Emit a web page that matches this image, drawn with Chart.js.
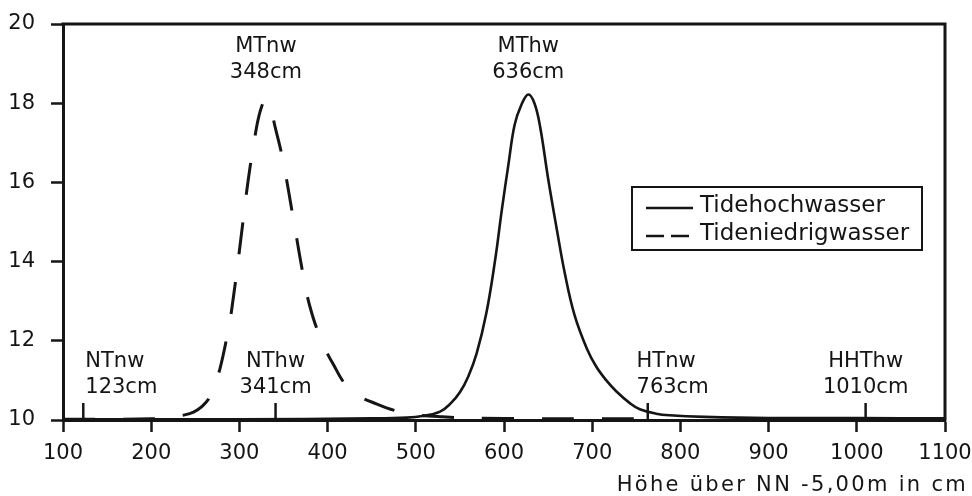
<!DOCTYPE html>
<html>
<head>
<meta charset="utf-8">
<script src="https://cdn.jsdelivr.net/npm/chart.js@4/dist/chart.umd.min.js"></script>
<style>
  html, body { margin: 0; padding: 0; background: #fff; }
  #wrap { width: 972px; height: 496px; }
</style>
</head>
<body>
<div id="wrap"><canvas id="chart" width="972" height="496"></canvas></div>
<script>
// Tidehochwasser (solid)
const hwX = [100, 300, 450, 490, 507.5, 527.5, 539.5, 550, 559.5, 569, 580, 590, 597.5, 605, 612, 619.5, 627.5, 634.5, 641, 650, 660, 669, 680, 694, 704.5, 716, 727.5, 743, 754, 772.5, 787.5, 827.5, 900, 1000, 1100];
const hwY = [10.02, 10.02, 10.04, 10.06, 10.1, 10.21, 10.42, 10.7, 11.1, 11.68, 12.7, 14.05, 15.3, 16.45, 17.45, 17.95, 18.22, 18.0, 17.4, 16.1, 14.8, 13.7, 12.65, 11.8, 11.35, 11.0, 10.72, 10.42, 10.27, 10.16, 10.12, 10.08, 10.05, 10.05, 10.04];
// Tideniedrigwasser (dashed)
const nwX = [100, 150, 200, 220, 236, 248, 258, 266.7, 272, 278, 285.6, 291.2, 300.7, 310, 319.6, 325, 330, 335, 340.4, 349, 361, 373, 380, 391.4, 405.8, 426, 456, 490, 530, 600, 700, 770];
const nwY = [10.02, 10.02, 10.03, 10.06, 10.12, 10.2, 10.35, 10.59, 10.9, 11.3, 12.07, 12.78, 14.4, 16.06, 17.41, 17.9, 18.08, 17.9, 17.41, 16.6, 15.1, 13.58, 12.86, 12.1, 11.43, 10.76, 10.4, 10.17, 10.08, 10.04, 10.03, 10.03];
const seriesNames = ["Tidehochwasser", "Tideniedrigwasser"];

const xTicks = [100, 200, 300, 400, 500, 600, 700, 800, 900, 1000, 1100];
const yTicks = [10, 12, 14, 16, 18, 20];
const xTitle = "Höhe über NN -5,00m in cm";

// marked water levels
const markNames = ["NTnw", "MTnw", "NThw", "MThw", "HTnw", "HHThw"];
const markValues = [123, 348, 341, 636, 763, 1010];
const markTick = [true, false, true, false, true, true];
// where each label sits (x in cm), alignment and row
const markLabelAt = [123, 330, 341, 627.5, 748, 1010];
const markAlign = ["left", "center", "center", "center", "left", "center"];
const markRow = ["bottom", "top", "bottom", "top", "bottom", "bottom"];

const INK = "#151515";
const FONT = "'DejaVu Sans', sans-serif";

function pts(xs, ys) {
  return xs.map((v, i) => ({ x: v, y: ys[i] }));
}

const decor = {
  id: "decor",
  beforeDraw(chart) {
    const ctx = chart.ctx;
    ctx.save();
    ctx.fillStyle = "#fff";
    ctx.fillRect(0, 0, chart.width, chart.height);
    ctx.restore();
  },
  afterDraw(chart) {
    const { ctx, chartArea: a, scales } = chart;
    const x = scales.x;
    ctx.save();
    ctx.strokeStyle = INK;
    ctx.fillStyle = INK;
    ctx.lineWidth = 3;
    ctx.beginPath();
    ctx.moveTo(a.left - 1.5, a.top);
    ctx.lineTo(a.right, a.top);
    ctx.lineTo(a.right, a.bottom + 1.5);
    ctx.stroke();

    // level marks
    ctx.font = "21px " + FONT;
    ctx.textBaseline = "middle";
    markNames.forEach((name, i) => {
      if (markTick[i]) {
        const px = x.getPixelForValue(markValues[i]);
        ctx.lineWidth = 2.5;
        ctx.beginPath();
        ctx.moveTo(px, a.bottom);
        ctx.lineTo(px, a.bottom - 17);
        ctx.stroke();
      }
      const lx = x.getPixelForValue(markLabelAt[i]) + (markAlign[i] === "left" ? 2 : 0);
      ctx.textAlign = markAlign[i];
      const y1 = markRow[i] === "top" ? a.top + 23 : a.bottom - 58;
      ctx.fillText(name, lx, y1);
      ctx.fillText(markValues[i] + "cm", lx, y1 + 26);
    });

    // legend
    const bx = a.right - 313, by = a.top + 163, bw = 290, bh = 63;
    ctx.lineWidth = 2;
    ctx.strokeRect(bx, by, bw, bh);
    ctx.font = "23px " + FONT;
    ctx.textAlign = "left";
    chart.data.datasets.forEach((ds, i) => {
      const ly = by + 21 + i * 28;
      ctx.save();
      ctx.lineWidth = 2.5;
      ctx.setLineDash(ds.borderDash && ds.borderDash.length ? [18, 7] : []);
      ctx.beginPath();
      ctx.moveTo(bx + 14, ly);
      ctx.lineTo(bx + 61, ly);
      ctx.stroke();
      ctx.restore();
      ctx.fillText(ds.label, bx + 68, ly - 2);
    });

    // axis title
    ctx.font = "21px " + FONT;
    if ("letterSpacing" in ctx) ctx.letterSpacing = "2.3px";
    ctx.textAlign = "right";
    ctx.fillText(xTitle, chart.width - 4, a.bottom + 66);
    ctx.restore();
  }
};

new Chart(document.getElementById("chart"), {
  type: "line",
  data: {
    datasets: [
      {
        label: seriesNames[0],
        data: pts(hwX, hwY),
        borderColor: INK,
        borderWidth: 2.6,
        pointRadius: 0,
        tension: 0.4,
        fill: false
      },
      {
        label: seriesNames[1],
        data: pts(nwX, nwY),
        borderColor: INK,
        borderWidth: 3,
        borderDash: [32, 28],
        pointRadius: 0,
        tension: 0.4,
        fill: false
      }
    ]
  },
  options: {
    responsive: false,
    animation: false,
    devicePixelRatio: 1,
    layout: { padding: { left: 0, top: 24, right: 27, bottom: 0 } },
    plugins: {
      legend: { display: false },
      title: { display: false },
      tooltip: { enabled: false }
    },
    scales: {
      x: {
        type: "linear",
        min: 100,
        max: 1100,
        afterBuildTicks: s => { s.ticks = xTicks.map(v => ({ value: v })); },
        afterFit: s => { s.height = 76; s.paddingLeft = 0; s.paddingRight = 0; },
        border: { display: true, color: INK, width: 3 },
        grid: { drawOnChartArea: false, drawTicks: true, tickLength: 12, tickWidth: 2.5, tickColor: INK },
        ticks: { color: INK, padding: 9, maxRotation: 0, font: { family: FONT, size: 21 }, callback: v => String(v) }
      },
      y: {
        type: "linear",
        min: 10,
        max: 20,
        afterBuildTicks: s => { s.ticks = yTicks.map(v => ({ value: v })); },
        afterFit: s => { s.width = 63; s.paddingTop = 0; s.paddingBottom = 0; },
        border: { display: true, color: INK, width: 3 },
        grid: { drawOnChartArea: false, drawTicks: true, tickLength: 12, tickWidth: 2.5, tickColor: INK },
        ticks: { color: INK, padding: 16, font: { family: FONT, size: 21 }, callback: v => String(v) }
      }
    }
  },
  plugins: [decor]
});
</script>
</body>
</html>
